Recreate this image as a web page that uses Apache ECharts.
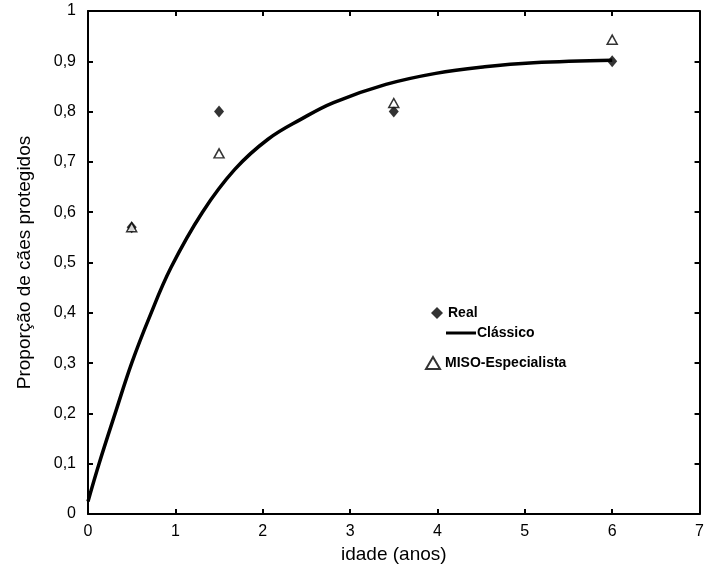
<!DOCTYPE html>
<html><head><meta charset="utf-8">
<script src="https://cdn.jsdelivr.net/npm/echarts@6/dist/echarts.min.js"></script>
<style>html,body{margin:0;padding:0;background:#fff}#c{width:707px;height:569px}</style>
</head><body><div id="c"></div>
<script>
const ages = [0.5, 1.5, 3.5, 6];
const realValues = [0.57, 0.80, 0.80, 0.90];
const misoValues = [0.57, 0.717, 0.817, 0.943];
const classicX = [0, 0.13, 0.32, 0.5, 0.7, 0.95, 1.31, 1.68, 2.06, 2.44, 2.81, 3.41, 3.98, 4.54, 5.1, 6];
const classicY = [0.025, 0.102, 0.205, 0.3, 0.39, 0.49, 0.6, 0.685, 0.745, 0.785, 0.818, 0.854, 0.876, 0.889, 0.897, 0.902];
const seriesNames = ['Real', 'Clássico', 'MISO-Especialista'];

const font = 'Liberation Sans, Arial, sans-serif';
const chart = echarts.init(document.getElementById('c'));
const axisLine = {show: true, onZero: false, lineStyle: {color: '#000', width: 2}};
const tick = {show: true, inside: true, length: 5, lineStyle: {color: '#000', width: 2}};
chart.setOption({
  animation: false,
  grid: {left: 88, top: 11, right: 1, bottom: 55},
  xAxis: [{
    type: 'value', min: 0, max: 7, interval: 1,
    axisLine: axisLine, axisTick: tick, splitLine: {show: false},
    axisLabel: {color: '#000', fontFamily: font, fontSize: 16, margin: 10},
    name: 'idade (anos)', nameLocation: 'middle', nameGap: 28,
    nameTextStyle: {color: '#000', fontFamily: font, fontSize: 19}
  }, {
    type: 'value', position: 'top', min: 0, max: 7, interval: 1,
    axisLine: axisLine, axisTick: tick, splitLine: {show: false}, axisLabel: {show: false}
  }],
  yAxis: [{
    type: 'value', min: 0, max: 1, interval: 0.1,
    axisLine: axisLine, axisTick: tick, splitLine: {show: false},
    axisLabel: {color: '#000', fontFamily: font, fontSize: 16, margin: 12,
      formatter: v => (Math.round(v * 10) / 10).toString().replace('.', ',')},
    name: 'Proporção de cães protegidos', nameLocation: 'middle', nameGap: 54,
    nameTextStyle: {color: '#000', fontFamily: font, fontSize: 19}
  }, {
    type: 'value', position: 'right', min: 0, max: 1, interval: 0.1,
    axisLine: axisLine, axisTick: tick, splitLine: {show: false}, axisLabel: {show: false}
  }],
  legend: [{
    data: [{name: seriesNames[0], icon: 'diamond'}],
    left: 426, top: 301, itemWidth: 12, itemHeight: 12, itemGap: 10,
    textStyle: {color: '#000', fontFamily: font, fontSize: 14, fontWeight: 'bold'}
  }, {
    data: [{name: seriesNames[1], icon: 'rect'}],
    left: 441, top: 321, itemWidth: 30, itemHeight: 3, itemGap: 2,
    textStyle: {color: '#000', fontFamily: font, fontSize: 14, fontWeight: 'bold', padding: [0,0,0,-4]}
  }, {
    data: [{name: seriesNames[2], icon: 'triangle'}],
    left: 420, top: 351, itemWidth: 14, itemHeight: 12, itemGap: 7,
    textStyle: {color: '#000', fontFamily: font, fontSize: 14, fontWeight: 'bold'}
  }],
  series: [{
    name: seriesNames[1], type: 'line', showSymbol: false, smooth: 0.4,
    data: classicX.map((x, i) => [x, classicY[i]]),
    lineStyle: {color: '#000', width: 3.5}, itemStyle: {color: '#000'}, z: 2
  }, {
    name: seriesNames[0], type: 'scatter', symbol: 'diamond', symbolSize: [10, 12],
    data: ages.map((x, i) => [x, realValues[i]]),
    itemStyle: {color: '#000'}, z: 3
  }, {
    name: seriesNames[2], type: 'scatter', symbol: 'triangle', symbolSize: [10, 9],
    data: ages.map((x, i) => [x, misoValues[i]]),
    itemStyle: {color: '#fff', borderColor: '#000', borderWidth: 1.5}, z: 4
  }]
});
</script></body></html>
